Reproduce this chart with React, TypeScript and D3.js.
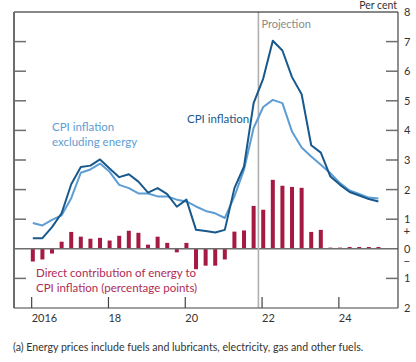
import React from "react";
import * as d3 from "d3";

const quarters = [
  "2016 Q1","2016 Q2","2016 Q3","2016 Q4",
  "2017 Q1","2017 Q2","2017 Q3","2017 Q4",
  "2018 Q1","2018 Q2","2018 Q3","2018 Q4",
  "2019 Q1","2019 Q2","2019 Q3","2019 Q4",
  "2020 Q1","2020 Q2","2020 Q3","2020 Q4",
  "2021 Q1","2021 Q2","2021 Q3","2021 Q4",
  "2022 Q1","2022 Q2","2022 Q3","2022 Q4",
  "2023 Q1","2023 Q2","2023 Q3","2023 Q4",
  "2024 Q1","2024 Q2","2024 Q3","2024 Q4",
  "2025 Q1",
];

const cpiInflation = [0.36,0.36,0.73,1.2,2.18,2.76,2.81,3.02,2.71,2.42,2.52,2.27,1.9,2.05,1.85,1.42,1.66,0.64,0.6,0.55,0.64,2.05,2.78,4.92,5.75,7.03,6.7,5.8,5.22,3.5,3.25,2.44,2.16,1.92,1.8,1.68,1.6];
const cpiExEnergy = [0.87,0.79,0.98,1.13,1.71,2.57,2.68,2.88,2.6,2.16,2.05,1.87,1.87,1.77,1.77,1.66,1.6,1.43,1.28,1.2,1.04,1.77,2.67,4.08,4.79,5.03,4.92,3.96,3.42,3.12,2.84,2.55,2.22,1.97,1.85,1.73,1.7];
const energyContribution = [-0.43,-0.36,-0.16,0.24,0.57,0.41,0.34,0.37,0.28,0.44,0.61,0.54,0.14,0.41,0.2,-0.12,0.2,-0.69,-0.57,-0.57,-0.36,0.58,0.62,1.45,1.32,2.33,2.13,2.09,2.06,0.57,0.64,0.04,0.04,0.06,0.06,0.06,0.06];

const yearTicks = [2016, 2018, 2020, 2022, 2024];
const yearLabels = ["2016", "18", "20", "22", "24"];
const yTicks = [8, 7, 6, 5, 4, 3, 2, 1, 0, -1, -2];
const yTickLabels = ["8", "7", "6", "5", "4", "3", "2", "1", "0", "1", "2"];
const projectionStart = "2022 Q1";

const W = 416, H = 362;
const L = 14, R = 398, T = 12, B = 308;
const FONT = "Lato, 'Noto Sans', sans-serif";

function qTime(q: string) {
  const [y, qq] = q.split(" Q");
  return +y + (+qq - 1) / 4 + 0.03;
}

export default function App() {
  const x = d3.scaleLinear().domain([2015.54, 2025.54]).range([L, R]);
  const y = d3.scaleLinear().domain([-2, 8]).range([B, T]);
  const pts = quarters.map(qTime);
  const line = d3.line<number>().x((_, i) => x(pts[i])).y((d) => y(d));
  const projX = x(qTime(projectionStart) - 0.125);
  const bw = 4;
  const axisCol = "#6d6d6d";

  return (
    <svg width={W} height={H} style={{ position: "absolute", left: 0, top: 0, background: "#fff" }} fontFamily={FONT}>
      {energyContribution.map((v, i) => (
        <rect key={i} x={x(pts[i]) - bw / 2} width={bw} y={Math.min(y(v), y(0))} height={Math.abs(y(v) - y(0))} fill="#a51a42" />
      ))}
      <line x1={L} x2={R} y1={y(0)} y2={y(0)} stroke={axisCol} strokeWidth={1.6} />
      <line x1={projX} x2={projX} y1={T} y2={B} stroke="#b0b0b0" strokeWidth={1.6} />
      <text x={projX + 3} y={28} fontSize={11} fill="#8a8a8a">Projection</text>
      <path d={line(cpiExEnergy) || ""} fill="none" stroke="#5d9dd3" strokeWidth={2} strokeLinejoin="round" />
      <path d={line(cpiInflation) || ""} fill="none" stroke="#18598d" strokeWidth={2} strokeLinejoin="round" />
      <line x1={L} x2={R} y1={T} y2={T} stroke="#111" strokeWidth={1} />
      <line x1={L} x2={L} y1={T} y2={B} stroke={axisCol} strokeWidth={2} />
      <line x1={R} x2={R} y1={T} y2={B} stroke="#444" strokeWidth={1.2} />
      <line x1={L} x2={R} y1={B} y2={B} stroke="#444" strokeWidth={1.2} />
      {yTicks.filter((t) => t !== 8 && t !== -2 && t !== 0).map((t) => (
        <g key={t}>
          <line x1={L} x2={L + 12} y1={y(t)} y2={y(t)} stroke={axisCol} strokeWidth={1.5} />
          <line x1={R - 12} x2={R} y1={y(t)} y2={y(t)} stroke={axisCol} strokeWidth={1.5} />
        </g>
      ))}
      {yTicks.map((t, i) => (
        <text key={t} x={404} y={y(t) + 4} fontSize={11} fill="#333">{yTickLabels[i]}</text>
      ))}
      <text x={403.5} y={y(0) - 13.5} fontSize={11.5} fill="#333">+</text>
      <text x={403.5} y={y(0) + 16.5} fontSize={11.5} fill="#333">−</text>
      <text x={397} y={9} fontSize={10.5} fill="#333" textAnchor="end">Per cent</text>
      {yearTicks.map((t, i) => (
        <g key={t}>
          <line x1={x(t)} x2={x(t)} y1={B} y2={B - 11} stroke="#444" strokeWidth={1.2} />
          <text x={x(t)} y={322} fontSize={11} fill="#333">{yearLabels[i]}</text>
        </g>
      ))}
      <text x={187} y={123} fontSize={11.5} fill="#18598d">CPI inflation</text>
      <text fontSize={11.5} fill="#5d9dd3">
        <tspan x={52} y={131}>CPI inflation</tspan>
        <tspan x={52} y={146}>excluding energy</tspan>
      </text>
      <text fontSize={11.5} fill="#b02a56">
        <tspan x={36} y={277}>Direct contribution of energy to</tspan>
        <tspan x={36} y={292}>CPI inflation (percentage points)</tspan>
      </text>
      <text x={13} y={351} fontSize={10.6} fill="#333">(a)  Energy prices include fuels and lubricants, electricity, gas and other fuels.</text>
    </svg>
  );
}
